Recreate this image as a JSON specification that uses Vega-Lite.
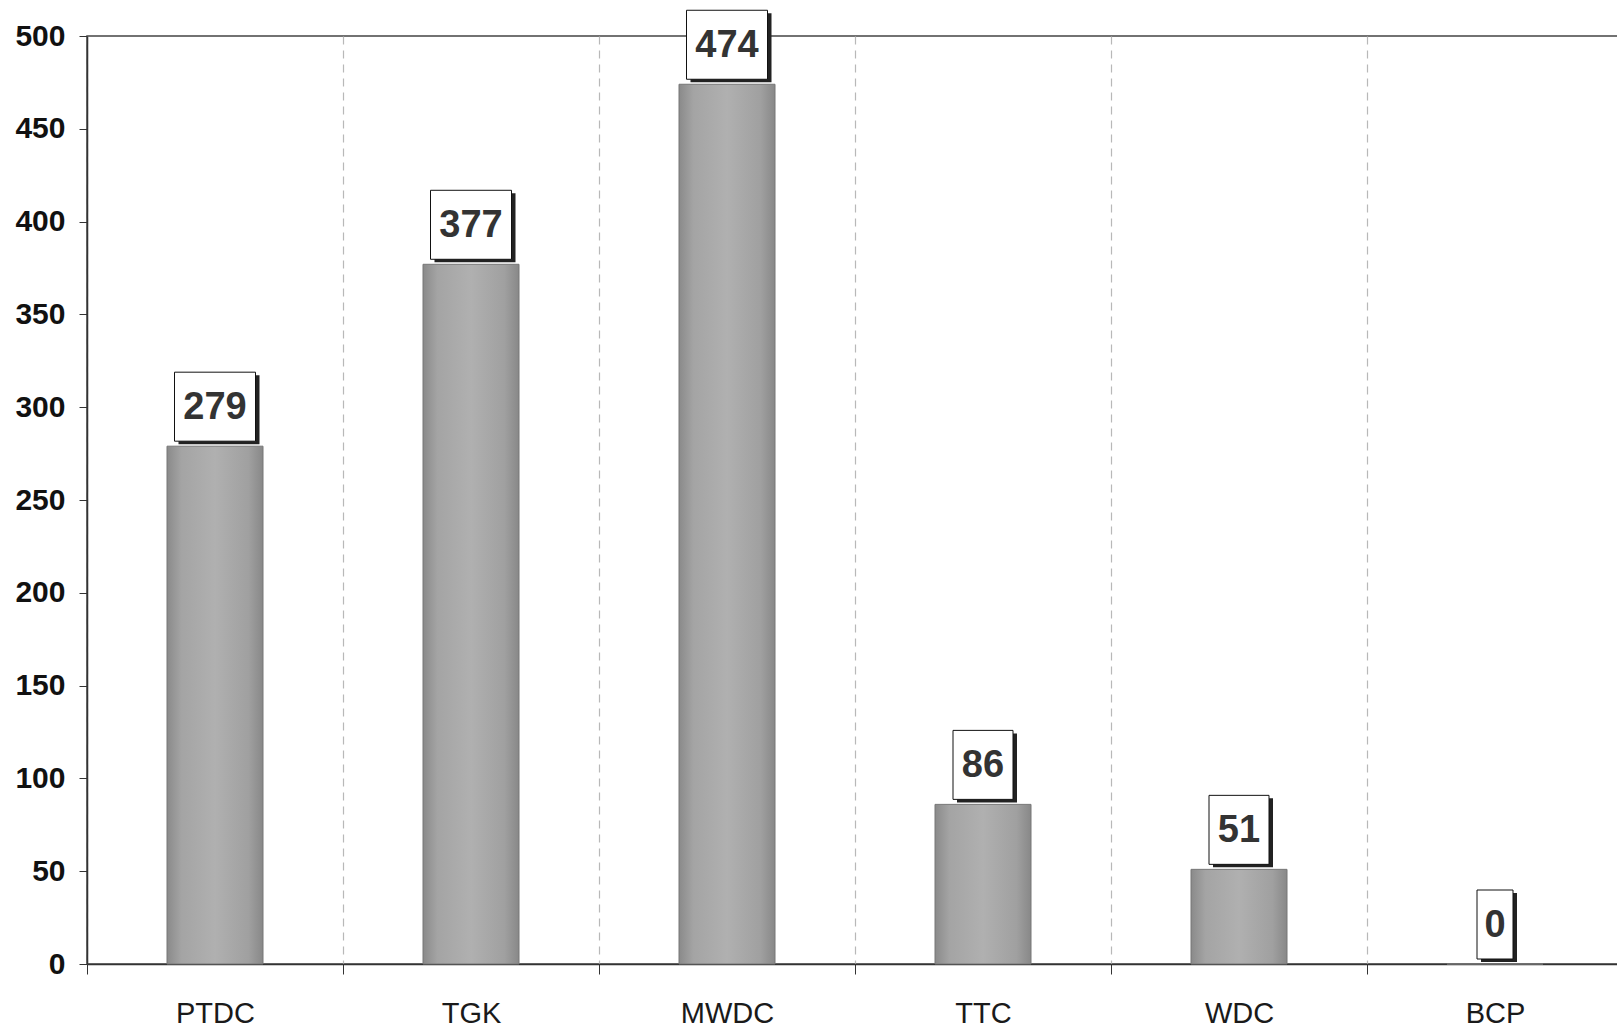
{
  "$schema": "https://vega.github.io/schema/vega-lite/v6.json",
  "width": 1536,
  "height": 928,
  "autosize": {"type": "none"},
  "padding": {"left": 87, "top": 36, "right": 0, "bottom": 65},
  "background": "white",
  "config": {
    "font": "Liberation Sans",
    "view": {"stroke": "#444", "strokeWidth": 1.5}
  },
  "data": {
    "values": [
      {"site": "PTDC", "value": 279},
      {"site": "TGK", "value": 377},
      {"site": "MWDC", "value": 474},
      {"site": "TTC", "value": 86},
      {"site": "WDC", "value": 51},
      {"site": "BCP", "value": 0}
    ]
  },
  "encoding": {
    "x": {
      "field": "site",
      "type": "nominal",
      "sort": null,
      "scale": {"paddingInner": 0, "paddingOuter": 0},
      "axis": {
        "title": null,
        "labelAngle": 0,
        "labelFont": "Liberation Sans",
        "labelFontSize": 29,
        "labelColor": "#1a1a1a",
        "labelPadding": 25,
        "tickBand": "extent",
        "tickSize": 10,
        "tickColor": "#333",
        "domainColor": "#333",
        "domainWidth": 1.5,
        "grid": true,
        "gridColor": "#b8b8b8",
        "gridDash": [8, 6],
        "gridWidth": 1.2
      }
    },
    "y": {
      "field": "value",
      "type": "quantitative",
      "scale": {"domain": [0, 500], "nice": false},
      "axis": {
        "title": null,
        "values": [0, 50, 100, 150, 200, 250, 300, 350, 400, 450, 500],
        "labelFont": "Liberation Sans",
        "labelFontSize": 30,
        "labelFontWeight": "bold",
        "labelColor": "#111",
        "labelPadding": 14,
        "tickSize": 8,
        "tickColor": "#333",
        "domainColor": "#333",
        "domainWidth": 1.5,
        "grid": false
      }
    }
  },
  "layer": [
    {
      "mark": {
        "type": "bar",
        "size": 96,
        "stroke": "#777",
        "strokeWidth": 1,
        "fill": {
          "gradient": "linear",
          "x1": 0, "y1": 0, "x2": 1, "y2": 0,
          "stops": [
            {"offset": 0, "color": "#8a8a8a"},
            {"offset": 0.15, "color": "#a4a4a4"},
            {"offset": 0.5, "color": "#b0b0b0"},
            {"offset": 0.85, "color": "#a0a0a0"},
            {"offset": 1, "color": "#888888"}
          ]
        }
      }
    },
    {
      "mark": {"type": "bar", "fill": "#222", "xOffset": 4, "yOffset": -71, "y2Offset": -2, "clip": false},
      "encoding": {
        "y2": {"field": "value"},
        "size": {
          "condition": [
            {"test": "datum.value >= 100", "value": 81},
            {"test": "datum.value >= 10", "value": 60}
          ],
          "value": 36
        }
      }
    },
    {
      "mark": {"type": "bar", "fill": "white", "stroke": "#111", "strokeWidth": 1, "yOffset": -74, "y2Offset": -5, "clip": false},
      "encoding": {
        "y2": {"field": "value"},
        "size": {
          "condition": [
            {"test": "datum.value >= 100", "value": 81},
            {"test": "datum.value >= 10", "value": 60}
          ],
          "value": 36
        }
      }
    },
    {
      "mark": {
        "type": "text",
        "font": "Liberation Sans",
        "fontSize": 38,
        "fontWeight": "bold",
        "color": "#333",
        "baseline": "middle",
        "align": "center",
        "yOffset": -38
      },
      "encoding": {
        "text": {"field": "value", "type": "quantitative"}
      }
    }
  ]
}
